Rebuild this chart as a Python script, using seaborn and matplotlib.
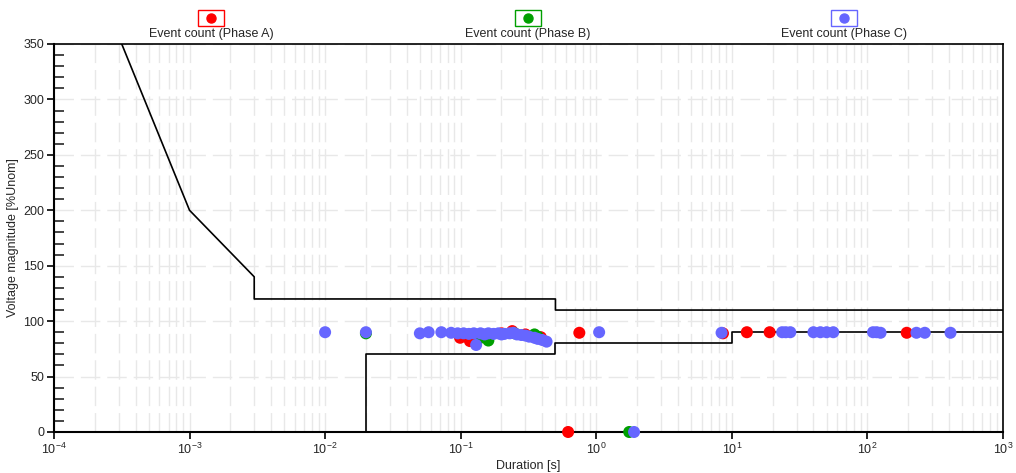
import numpy as np
import pandas as pd
import seaborn as sns
import matplotlib.pyplot as plt
from matplotlib.lines import Line2D
from matplotlib.patches import Rectangle
from matplotlib.ticker import LogLocator, MultipleLocator, NullFormatter

# Event data (duration [s], magnitude [%Unom])
dur_a = [0.099, 0.117, 0.2, 0.24, 0.3, 0.39, 0.62, 0.75, 8.6, 12.9, 19.0, 195.0]
mag_a = [85, 82, 89, 91, 88, 85.5, 0, 89.5, 89, 90, 90, 89.5]

dur_b = [0.02, 0.16, 0.14, 0.25, 0.35, 0.37, 1.75]
mag_b = [89, 82.5, 85, 89, 88, 86, 0]

dur_c = [0.01, 0.02, 0.05, 0.058, 0.072, 0.085, 0.095, 0.105, 0.115, 0.125, 0.13,
         0.14, 0.15, 0.16, 0.175, 0.19, 0.2, 0.21, 0.23, 0.245, 0.26, 0.28, 0.3,
         0.32, 0.35, 0.37, 0.4, 0.43, 1.05, 1.9, 8.4, 23.5, 25, 27, 40, 45, 50,
         56, 110, 117, 125, 230, 265, 410]
mag_c = [90, 90, 89, 90, 90, 89.5, 89, 89, 88.5, 89, 78.5,
         89, 88, 89, 88.5, 89, 88, 88.5, 89, 89.5, 88, 87.5, 87,
         86, 85, 84, 83, 81.5, 90, 0, 89.5, 90, 90, 90, 90, 90, 90,
         90, 90, 90, 89.5, 89.5, 89.5, 89.5]

# ITIC-style tolerance curve
upper_t = [1e-4, 1e-3, 3e-3, 3e-3, 0.5, 0.5, 1000]
upper_v = [500, 200, 140, 120, 120, 110, 110]
lower_t = [0.02, 0.02, 0.5, 0.5, 10, 10, 1000]
lower_v = [0, 70, 70, 80, 80, 90, 90]

phases = ["Event count (Phase A)", "Event count (Phase B)", "Event count (Phase C)"]
colors = ["#FF0000", "#009F00", "#6666FF"]

df = pd.concat([
    pd.DataFrame({"dur": dur_a, "mag": mag_a, "phase": phases[0]}),
    pd.DataFrame({"dur": dur_b, "mag": mag_b, "phase": phases[1]}),
    pd.DataFrame({"dur": dur_c, "mag": mag_c, "phase": phases[2]}),
])
curve = pd.concat([
    pd.DataFrame({"t": upper_t, "v": upper_v, "part": "upper"}),
    pd.DataFrame({"t": lower_t, "v": lower_v, "part": "lower"}),
])

sns.set_style("white")
plt.rcParams["font.family"] = ["Liberation Sans", "DejaVu Sans"]

fig = plt.figure(figsize=(10.16, 4.73), dpi=100)
ax = fig.add_axes([0.0531, 0.0867, 0.9341, 0.8203])
ax.set_xscale("log")

# grid
ax.xaxis.set_major_locator(LogLocator(base=10))
ax.xaxis.set_minor_locator(LogLocator(base=10, subs=np.arange(2, 10)))
ax.xaxis.set_minor_formatter(NullFormatter())
ax.yaxis.set_major_locator(MultipleLocator(50))
ax.yaxis.set_minor_locator(MultipleLocator(10))
ax.grid(True, which="both", axis="x", color="#e8e8e8", linestyle=(0, (14, 5)), linewidth=1)
ax.grid(True, which="major", axis="y", color="#e8e8e8", linestyle=(0, (14, 5)), linewidth=1)
ax.set_axisbelow(True)

sns.lineplot(data=curve, x="t", y="v", units="part", estimator=None, sort=False,
             color="black", linewidth=1.2, ax=ax)
sns.scatterplot(data=df, x="dur", y="mag", hue="phase", palette=colors,
                s=75, edgecolor="none", ax=ax, legend=False, zorder=3, clip_on=False)

ax.set_xlim(1e-4, 1e3)
ax.set_ylim(0, 350)
ax.set_xlabel("Duration [s]", fontsize=9, labelpad=2)
ax.set_ylabel("Voltage magnitude [%Unom]", fontsize=9, labelpad=3)
ax.tick_params(axis="both", which="major", direction="out", length=5, width=1.2,
               labelsize=9, color="black", pad=2)
ax.tick_params(axis="y", which="minor", direction="in", length=7, width=1.2, left=True)
ax.tick_params(axis="x", which="minor", bottom=False)
ax.tick_params(axis="x", which="major", bottom=True)
ax.tick_params(axis="y", which="major", left=True)
for side in ["left", "bottom", "top", "right"]:
    ax.spines[side].set_visible(True)
    ax.spines[side].set_color("black")
ax.spines["left"].set_linewidth(1.5)
ax.spines["bottom"].set_linewidth(1.5)
ax.spines["top"].set_linewidth(1.2)
ax.spines["right"].set_linewidth(1.2)

# legend: marker box above label
for name, col, xc in zip(phases, colors, [211, 528, 844]):
    fx = xc / 1016
    fig.add_artist(Rectangle((fx - 13 / 1016, 1 - 26 / 473), 26 / 1016, 16 / 473,
                             transform=fig.transFigure, facecolor="white",
                             edgecolor=col, linewidth=1))
    fig.add_artist(Line2D([fx], [1 - 18 / 473], transform=fig.transFigure,
                          marker="o", markersize=6.5, color=col, linestyle="none"))
    fig.text(fx, 1 - 34 / 473, name, ha="center", va="center", fontsize=9)

fig.savefig("out.png", dpi=100)
